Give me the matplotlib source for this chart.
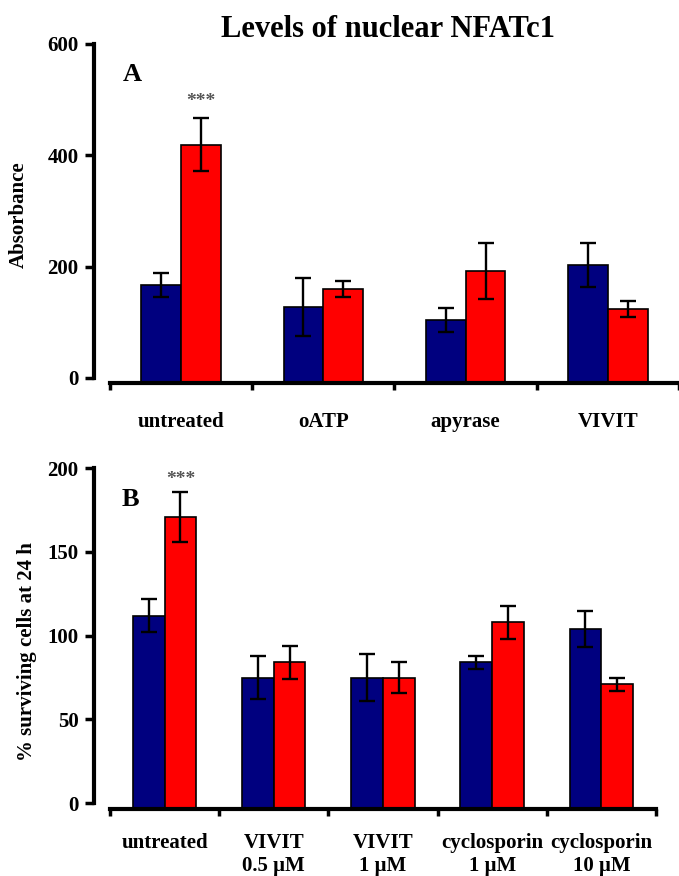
import matplotlib.pyplot as plt
import numpy as np

plt.rcParams['font.family'] = ['Liberation Serif', 'DejaVu Serif']
plt.rcParams['font.weight'] = 'bold'

# Panel A: nuclear NFATc1 (absorbance)
cats_a = ['untreated', 'oATP', 'apyrase', 'VIVIT']
blue_a = [167, 127, 104, 203]
blue_a_err = [22, 52, 21, 40]
red_a = [419, 160, 192, 124]
red_a_err = [48, 14, 50, 15]

# Panel B: % surviving cells at 24 h
cats_b = ['untreated', 'VIVIT\n0.5 \u03bcM', 'VIVIT\n1 \u03bcM', 'cyclosporin\n1 \u03bcM', 'cyclosporin\n10 \u03bcM']
blue_b = [112, 75, 75, 84, 104]
blue_b_err = [10, 13, 14, 4, 11]
red_b = [171, 84, 75, 108, 71]
red_b_err = [15, 10, 9, 10, 4]

navy = '#00007f'
red = '#ff0000'

fig = plt.figure(figsize=(6.79, 8.76), dpi=100)
ax_a = fig.add_axes([0.162, 0.5628, 0.838, 0.387])
ax_b = fig.add_axes([0.162, 0.0765, 0.804, 0.389])


def draw_panel(ax, cats, blue, blue_err, red_vals, red_err, ylim, yticks,
               ylabel, ylabel_xy, letter, star_y, width, pad):
    x = np.arange(len(cats))
    base = ylim[0]
    ebar = dict(ecolor='black', elinewidth=1.7, capsize=5.5, capthick=1.7)
    ax.bar(x - width / 2, np.array(blue) - base, width, bottom=base, color=navy,
           edgecolor='black', linewidth=1.2, yerr=blue_err, error_kw=ebar, zorder=2)
    ax.bar(x + width / 2, np.array(red_vals) - base, width, bottom=base, color=red,
           edgecolor='black', linewidth=1.2, yerr=red_err, error_kw=ebar, zorder=2)

    ax.set_xlim(-0.5, len(cats) - 0.5)
    ax.set_ylim(*ylim)
    ax.set_yticks(yticks)
    ax.set_yticklabels([str(t) for t in yticks])
    ax.set_xticks(x)
    ax.set_xticklabels(cats, va='top', ha='center')
    ax.set_xticks(np.arange(len(cats) + 1) - 0.5, minor=True)
    ax.tick_params(axis='x', which='major', length=0, pad=pad, labelsize=15)
    ax.tick_params(axis='x', which='minor', length=5, width=2.5, direction='out')
    ax.tick_params(axis='y', length=6.5, width=2.5, direction='out', pad=4.5, labelsize=15)

    for s in ['top', 'right']:
        ax.spines[s].set_visible(False)
    ax.spines['left'].set_position(('outward', 11.5))
    ax.spines['left'].set_bounds(yticks[0], yticks[-1])
    ax.spines['left'].set_linewidth(3)
    ax.spines['bottom'].set_linewidth(3)

    ax.set_ylabel(ylabel, fontsize=15, fontweight='bold')
    ax.yaxis.set_label_coords(*ylabel_xy)
    ax.text(0.022, 0.89, letter, transform=ax.transAxes, fontsize=19, fontweight='bold')
    ax.text(0 + width / 2, star_y, '***', ha='center', va='bottom', fontsize=14, color='#555555')


draw_panel(ax_a, cats_a, blue_a, blue_a_err, red_a, red_a_err, (-9, 600),
           [0, 200, 400, 600], 'Absorbance', (-0.142, 0.496), 'A', 482, 0.28, 21)
draw_panel(ax_b, cats_b, blue_b, blue_b_err, red_b, red_b_err, (-3.5, 200),
           [0, 50, 100, 150, 200], '% surviving cells at 24 h', (-0.133, 0.463), 'B', 188, 0.29, 17)

fig.text(0.571, 0.966, 'Levels of nuclear NFATc1', ha='center', va='center', fontsize=22, fontweight='bold')

fig.savefig('out.png', dpi=100, facecolor='white')
